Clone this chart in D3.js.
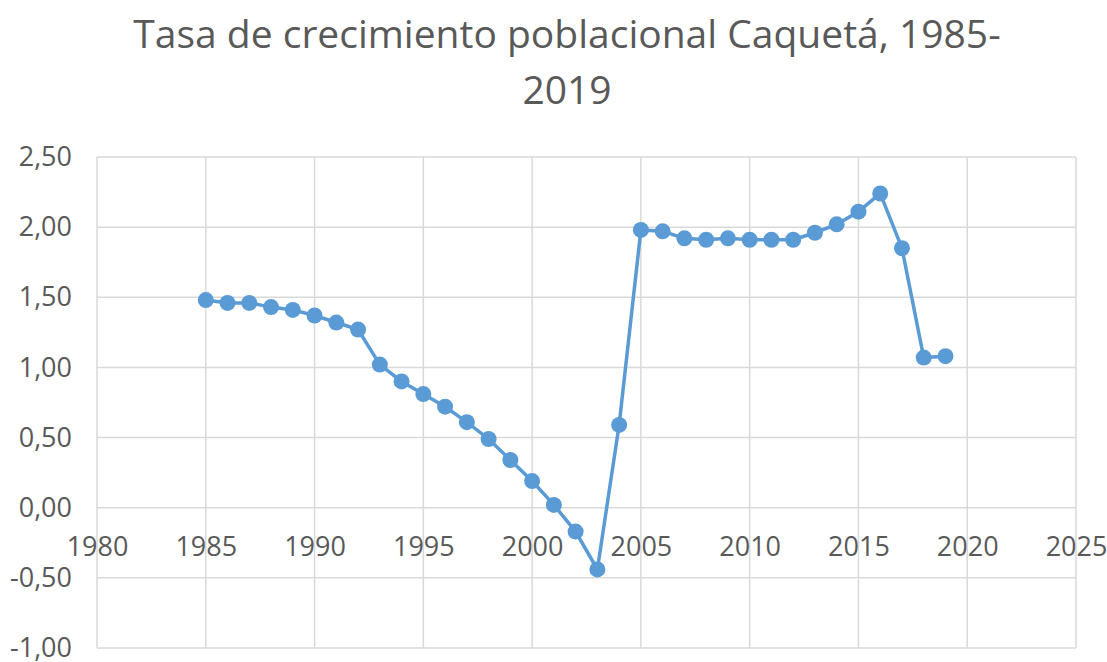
<!DOCTYPE html>
<html>
<head>
<meta charset="utf-8">
<script src="https://cdn.jsdelivr.net/npm/d3@7"></script>
<style>
  body { margin: 0; background: #fff; }
  text { font-family: "Open Sans", "Noto Sans", sans-serif; fill: #595959; }
</style>
</head>
<body>
<div id="chart"></div>
<script>
// Data
var years = [1985, 1986, 1987, 1988, 1989, 1990, 1991, 1992, 1993, 1994,
             1995, 1996, 1997, 1998, 1999, 2000, 2001, 2002, 2003, 2004,
             2005, 2006, 2007, 2008, 2009, 2010, 2011, 2012, 2013, 2014,
             2015, 2016, 2017, 2018, 2019];
var rates = [1.48, 1.46, 1.46, 1.43, 1.41, 1.37, 1.32, 1.27, 1.02, 0.90,
             0.81, 0.72, 0.61, 0.49, 0.34, 0.19, 0.02, -0.17, -0.44, 0.59,
             1.98, 1.97, 1.92, 1.91, 1.92, 1.91, 1.91, 1.91, 1.96, 2.02,
             2.11, 2.24, 1.85, 1.07, 1.08];
var xTicks = [1980, 1985, 1990, 1995, 2000, 2005, 2010, 2015, 2020, 2025];
var yTicks = [-1, -0.5, 0, 0.5, 1, 1.5, 2, 2.5];
var titleLines = ["Tasa de crecimiento poblacional Caquetá, 1985-", "2019"];

var data = years.map(function(y, i) { return {year: y, rate: rates[i]}; });

var W = 1107, H = 662;
var margin = {top: 157, right: 31, bottom: 14, left: 97},
    width = W - margin.left - margin.right,
    height = H - margin.top - margin.bottom;

var svg = d3.select("#chart")
  .append("svg")
  .attr("width", W)
  .attr("height", H);

// Title
svg.selectAll(".title")
  .data(titleLines)
  .enter().append("text")
  .attr("class", "title")
  .attr("x", 567)
  .attr("y", function(d, i) { return 48 + i * 56; })
  .attr("text-anchor", "middle")
  .style("font-size", "39px")
  .text(function(d) { return d; });

var g = svg.append("g")
  .attr("transform", "translate(" + margin.left + "," + margin.top + ")");

var xScale = d3.scaleLinear().domain([1980, 2025]).range([0, width]);
var yScale = d3.scaleLinear().domain([-1, 2.5]).range([height, 0]);

// Gridlines
g.append("g")
  .selectAll("line")
  .data(yTicks)
  .enter().append("line")
  .attr("x1", 0).attr("x2", width)
  .attr("y1", function(d) { return yScale(d); })
  .attr("y2", function(d) { return yScale(d); })
  .attr("stroke", "#d9d9d9")
  .attr("stroke-width", 1.5);

g.append("g")
  .selectAll("line")
  .data(xTicks)
  .enter().append("line")
  .attr("y1", 0).attr("y2", height)
  .attr("x1", function(d) { return xScale(d); })
  .attr("x2", function(d) { return xScale(d); })
  .attr("stroke", "#d9d9d9")
  .attr("stroke-width", 1.5);

// Y axis labels
var yAxis = g.append("g")
  .call(d3.axisLeft(yScale).tickValues(yTicks).tickSize(0).tickPadding(25)
    .tickFormat(function(d) { return d3.format(".2f")(d).replace(".", ",").replace("−", "-"); }));
yAxis.select(".domain").remove();
yAxis.selectAll("text").style("font-size", "27px").style("fill", "#595959")
  .style("font-family", "'Open Sans', 'Noto Sans', sans-serif");

// X axis labels sitting under the zero line
var xAxis = g.append("g")
  .attr("transform", "translate(0," + yScale(0) + ")")
  .call(d3.axisBottom(xScale).tickValues(xTicks).tickSize(0).tickPadding(29)
    .tickFormat(d3.format("d")));
xAxis.select(".domain").remove();
xAxis.selectAll("text").style("font-size", "27px").style("fill", "#595959")
  .style("font-family", "'Open Sans', 'Noto Sans', sans-serif");

// Line
var line = d3.line()
  .x(function(d) { return xScale(d.year); })
  .y(function(d) { return yScale(d.rate); });

g.append("path")
  .datum(data)
  .attr("fill", "none")
  .attr("stroke", "#5b9bd5")
  .attr("stroke-width", 3.5)
  .attr("d", line);

// Markers
g.selectAll(".dot")
  .data(data)
  .enter().append("circle")
  .attr("class", "dot")
  .attr("r", 8)
  .attr("cx", function(d) { return xScale(d.year); })
  .attr("cy", function(d) { return yScale(d.rate); })
  .attr("fill", "#5b9bd5");
</script>
</body>
</html>
